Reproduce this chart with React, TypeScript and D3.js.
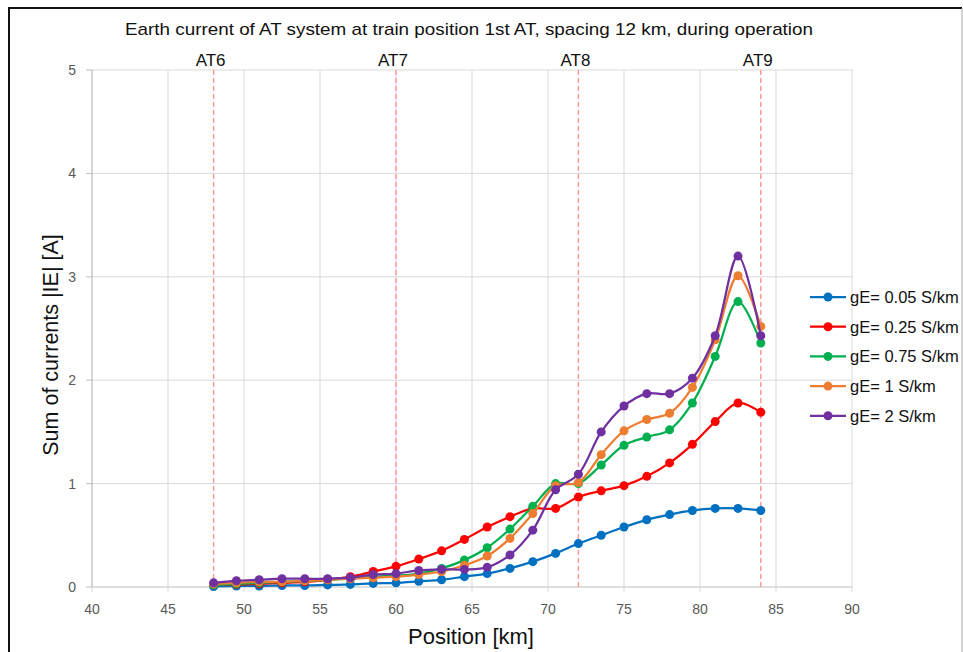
import React from "react";
import * as d3 from "d3";

// Positions along the line [km]
const positions = [
  48, 49.5, 51, 52.5, 54, 55.5, 57, 58.5, 60, 61.5, 63, 64.5, 66, 67.5, 69,
  70.5, 72, 73.5, 75, 76.5, 78, 79.5, 81, 82.5, 84,
];

// Sum of earth currents |IE| [A] per earth conductance
const gE005 = [
  0.005, 0.01, 0.01, 0.015, 0.015, 0.02, 0.025, 0.035, 0.04, 0.055, 0.07, 0.1,
  0.13, 0.18, 0.245, 0.325, 0.42, 0.5, 0.58, 0.65, 0.7, 0.74, 0.76, 0.76, 0.74,
];
const gE025 = [
  0.02, 0.025, 0.03, 0.04, 0.05, 0.07, 0.1, 0.15, 0.2, 0.27, 0.35, 0.46, 0.58,
  0.68, 0.76, 0.76, 0.87, 0.93, 0.98, 1.07, 1.2, 1.38, 1.6, 1.78, 1.69,
];
const gE075 = [
  0.02, 0.03, 0.04, 0.05, 0.06, 0.07, 0.08, 0.1, 0.11, 0.13, 0.18, 0.26, 0.38,
  0.56, 0.78, 1.0, 1.0, 1.18, 1.37, 1.45, 1.52, 1.78, 2.23, 2.76, 2.36,
];
const gE1 = [
  0.03, 0.04, 0.05, 0.05, 0.06, 0.07, 0.08, 0.09, 0.1, 0.12, 0.15, 0.21, 0.3,
  0.47, 0.71, 0.98, 1.01, 1.28, 1.51, 1.62, 1.68, 1.93, 2.39, 3.01, 2.52,
];
const gE2 = [
  0.04, 0.06, 0.07, 0.08, 0.08, 0.08, 0.09, 0.12, 0.13, 0.16, 0.17, 0.17, 0.19,
  0.31, 0.55, 0.94, 1.09, 1.5, 1.75, 1.87, 1.87, 2.02, 2.43, 3.2, 2.43,
];

const seriesNames = [
  "gE= 0.05 S/km",
  "gE= 0.25 S/km",
  "gE= 0.75 S/km",
  "gE= 1 S/km",
  "gE= 2 S/km",
];
const seriesValues = [gE005, gE025, gE075, gE1, gE2];
const seriesColors = ["#0070C0", "#FF0000", "#00B050", "#ED7D31", "#7030A0"];

// Autotransformer stations
const atNames = ["AT6", "AT7", "AT8", "AT9"];
const atPositions = [48, 60, 72, 84];

const xTicks = [40, 45, 50, 55, 60, 65, 70, 75, 80, 85, 90];
const yTicks = [0, 1, 2, 3, 4, 5];

const W = 963;
const H = 652;
const plot = { left: 92, right: 852, top: 70, bottom: 587 };
const font = "'Liberation Sans', Arial, sans-serif";

export default function App() {
  const x = d3.scaleLinear().domain([40, 90]).range([plot.left, plot.right]);
  const y = d3.scaleLinear().domain([0, 5]).range([plot.bottom, plot.top]);

  const line = d3
    .line<[number, number]>()
    .x((d) => x(d[0]))
    .y((d) => y(d[1]))
    .curve(d3.curveCatmullRom.alpha(0.5));

  const legendY0 = 297;
  const legendStep = 29.7;

  return (
    <svg
      width={W}
      height={H}
      style={{ position: "absolute", left: 0, top: 0, background: "#fff" }}
      fontFamily={font}
    >
      <rect x={0} y={0} width={W} height={H} fill="#fff" />
      {/* outer frame */}
      <line x1={9} y1={8} x2={962} y2={8} stroke="#111" strokeWidth={2} />
      <line x1={9} y1={7} x2={9} y2={H} stroke="#111" strokeWidth={2} />
      <line x1={962} y1={8} x2={962} y2={H} stroke="#aaa" strokeWidth={1} />

      <text
        x={469}
        y={35}
        textAnchor="middle"
        fontSize={17}
        fill="#111"
        textLength={688}
        lengthAdjust="spacingAndGlyphs"
      >
        Earth current of AT system at train position 1st AT, spacing 12 km,
        during operation
      </text>

      {/* grid */}
      {yTicks.map((t) => (
        <line
          key={"gy" + t}
          x1={plot.left}
          x2={plot.right}
          y1={y(t)}
          y2={y(t)}
          stroke={t === 0 ? "#bfbfbf" : "#d9d9d9"}
          strokeWidth={1}
        />
      ))}
      {xTicks.map((t) => (
        <line
          key={"gx" + t}
          x1={x(t)}
          x2={x(t)}
          y1={plot.top}
          y2={plot.bottom + 5}
          stroke="#d9d9d9"
          strokeWidth={1}
        />
      ))}
      <line
        x1={plot.left}
        x2={plot.left}
        y1={plot.top}
        y2={plot.bottom}
        stroke="#bfbfbf"
      />
      {yTicks.map((t) => (
        <g key={"ty" + t}>
          <line
            x1={plot.left - 6}
            x2={plot.left}
            y1={y(t)}
            y2={y(t)}
            stroke="#bfbfbf"
          />
          <text
            x={plot.left - 16}
            y={y(t) + 5}
            textAnchor="end"
            fontSize={14}
            fill="#595959"
          >
            {t}
          </text>
        </g>
      ))}
      {xTicks.map((t) => (
        <text
          key={"tx" + t}
          x={x(t)}
          y={plot.bottom + 27}
          textAnchor="middle"
          fontSize={14}
          fill="#595959"
        >
          {t}
        </text>
      ))}

      {/* AT stations */}
      {atPositions.map((p, i) => (
        <g key={atNames[i]}>
          <line
            x1={x(p)}
            x2={x(p)}
            y1={plot.top}
            y2={plot.bottom}
            stroke="#FF9999"
            strokeWidth={1.5}
            strokeDasharray="5,3"
          />
          <text
            x={x(p) - 3}
            y={66}
            textAnchor="middle"
            fontSize={17}
            fill="#111"
          >
            {atNames[i]}
          </text>
        </g>
      ))}

      {/* series */}
      {seriesValues.map((vals, si) => {
        const pts = positions.map((p, i) => [p, vals[i]] as [number, number]);
        return (
          <g key={seriesNames[si]}>
            <path
              d={line(pts) || ""}
              fill="none"
              stroke={seriesColors[si]}
              strokeWidth={2.25}
            />
            {pts.map((d, i) => (
              <circle
                key={i}
                cx={x(d[0])}
                cy={y(d[1])}
                r={4.5}
                fill={seriesColors[si]}
              />
            ))}
          </g>
        );
      })}

      {/* legend */}
      {seriesNames.map((n, i) => {
        const ly = legendY0 + i * legendStep;
        return (
          <g key={"lg" + i}>
            <line
              x1={810}
              x2={846}
              y1={ly}
              y2={ly}
              stroke={seriesColors[i]}
              strokeWidth={2.25}
            />
            <circle cx={828} cy={ly} r={4.5} fill={seriesColors[i]} />
            <text x={850} y={ly + 6} fontSize={16.5} fill="#111">
              {n}
            </text>
          </g>
        );
      })}

      {/* axis titles */}
      <text
        x={471}
        y={644}
        textAnchor="middle"
        fontSize={22}
        fill="#111"
      >
        Position [km]
      </text>
      <text
        transform={`translate(58,345) rotate(-90)`}
        textAnchor="middle"
        fontSize={21.5}
        fill="#111"
      >
        Sum of currents |IE| [A]
      </text>
    </svg>
  );
}
